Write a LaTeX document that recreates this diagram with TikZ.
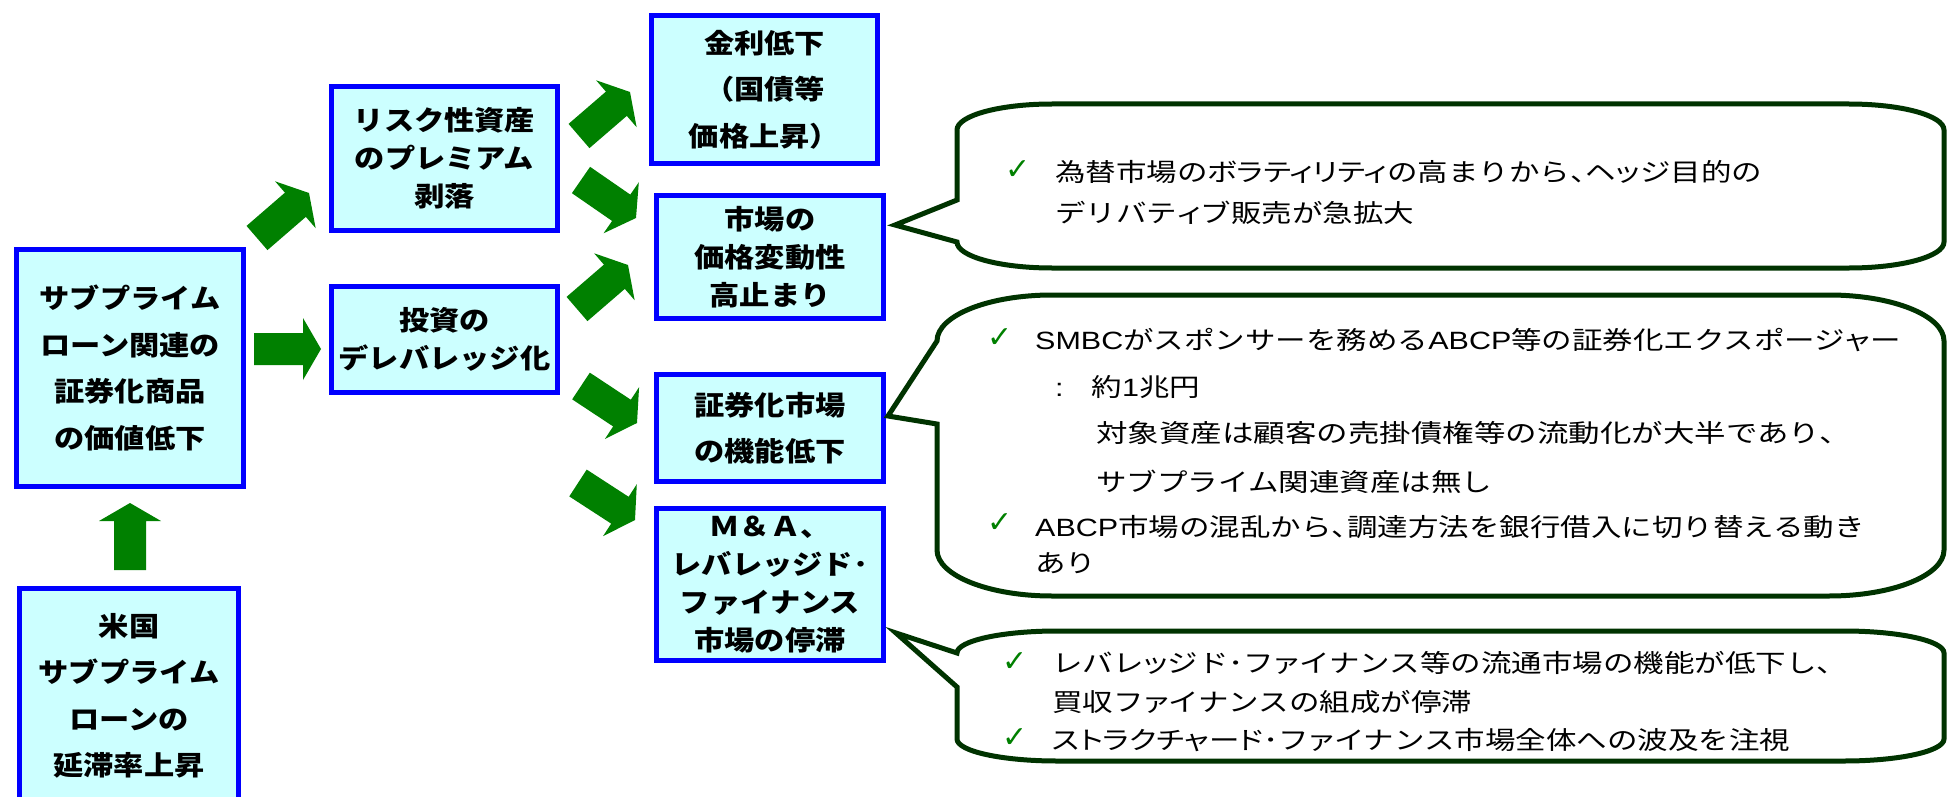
\documentclass[tikz,border=0pt]{standalone}
\usepackage{fontspec}
\usetikzlibrary{calc}
\newfontfamily\boxfont[FakeStretch=1.12]{Noto Sans CJK JP}
\newfontfamily\txtfont[FakeStretch=1.22]{Noto Sans CJK JP}
\newfontfamily\txtwfont[FakeStretch=1.26]{Noto Sans CJK JP}
\newfontfamily\txtpfont[FakeStretch=1.22,RawFeature=+palt]{Noto Sans CJK JP}
\newfontfamily\latfont[FakeStretch=1.22]{Liberation Sans}
\newfontfamily\symfont{DejaVu Sans}
\newcommand\pkn[1]{{\txtpfont #1}}
\newcommand\ltn[1]{{\latfont #1}}
\definecolor{boxblue}{RGB}{0,0,255}
\definecolor{boxfill}{RGB}{204,255,255}
\definecolor{arrowgreen}{RGB}{0,128,0}
\definecolor{calloutgreen}{RGB}{0,51,0}
\newcommand\blockarrow[3]{%
  \coordinate (#3) at ($(#2)!18pt!(#1)$);
  \fill[arrowgreen] ($(#1)!16pt!90:(#2)$) -- ($(#3)!16pt!90:(#2)$) -- ($(#3)!31pt!90:(#2)$) -- (#2)
    -- ($(#3)!31pt!-90:(#2)$) -- ($(#3)!16pt!-90:(#2)$) -- ($(#1)!16pt!-90:(#2)$) -- cycle;}
\begin{document}
\begin{tikzpicture}[x=1pt,y=-1pt,
  stepbox/.style={draw=boxblue, fill=boxfill, line width=5pt, inner sep=0pt, align=center},
  widesp/.style={font=\boxfont\bfseries\fontsize{27}{46.5}\selectfont},
  narrowsp/.style={font=\boxfont\bfseries\fontsize{27}{38}\selectfont},
  callout/.style={draw=calloutgreen, fill=white, line width=5pt, line join=miter},
  txt/.style={anchor=west, inner sep=0pt, font=\txtfont\fontsize{25}{30}\selectfont},
  chk/.style={inner sep=0pt, text=arrowgreen, font=\symfont\fontsize{30}{32}\selectfont}]
\useasboundingbox (0,0) rectangle (1948,797);
\clip (0,0) rectangle (1948,797);

% boxes
\node[stepbox, widesp, minimum width=227pt, minimum height=237pt] (A) at (130,368) {サブプライム\\ローン関連の\\証券化商品\\の価値低下};
\node[stepbox, widesp, minimum width=219pt, minimum height=215pt] (B) at (129,696) {米国\\サブプライム\\ローンの\\延滞率上昇};
\node[stepbox, narrowsp, minimum width=226pt, minimum height=144pt] (C) at (444.5,158.5) {リスク性資産\\のプレミアム\\剥落};
\node[stepbox, narrowsp, minimum width=226pt, minimum height=106pt] (D) at (444.5,339.5) {投資の\\デレバレッジ化};
\node[stepbox, widesp, minimum width=226pt, minimum height=148pt] (E) at (764.5,89.5) {金利低下\\（国債等\\価格上昇）};
\node[stepbox, narrowsp, minimum width=227pt, minimum height=123pt] (F) at (770,257) {市場の\\価格変動性\\高止まり};
\node[stepbox, widesp, minimum width=227pt, minimum height=107pt] (G) at (770,428) {証券化市場\\の機能低下};
\node[stepbox, narrowsp, minimum width=227pt, minimum height=152pt] (H) at (770,584.5) {Ｍ＆Ａ、\\レバレッジド･\\ファイナンス\\市場の停滞};

% block arrows
\coordinate (ba0) at (130,570); \coordinate (ba1) at (130,503);
\coordinate (ad0) at (254,349); \coordinate (ad1) at (321,349);
\coordinate (ac0) at (257,238); \coordinate (ac1) at (309,193);
\coordinate (ce0) at (579,136); \coordinate (ce1) at (630,92);
\coordinate (cf0) at (581,180); \coordinate (cf1) at (636,218);
\coordinate (df0) at (577,309); \coordinate (df1) at (628,265);
\coordinate (dg0) at (581,386); \coordinate (dg1) at (637,423);
\coordinate (dh0) at (578,483); \coordinate (dh1) at (635,520);
\blockarrow{ba0}{ba1}{bah}
\blockarrow{ad0}{ad1}{adh}
\blockarrow{ac0}{ac1}{ach}
\blockarrow{ce0}{ce1}{ceh}
\blockarrow{cf0}{cf1}{cfh}
\blockarrow{df0}{df1}{dfh}
\blockarrow{dg0}{dg1}{dgh}
\blockarrow{dh0}{dh1}{dhh}

% callout 1
\draw[callout] (957,130) -- (957,200) -- (895,225) -- (957,242)
  .. controls (957,256.4) and (999.5,268) .. (1052,268) -- (1849,268)
  .. controls (1901.5,268) and (1944,256.4) .. (1944,242) -- (1944,130)
  .. controls (1944,115.6) and (1901.5,104) .. (1849,104) -- (1052,104)
  .. controls (999.5,104) and (957,115.6) .. (957,130) -- cycle;
% callout 2
\draw[callout] (937,341) -- (888,416) -- (937,424) -- (937,550)
  .. controls (937,575.4) and (988.5,596) .. (1052,596) -- (1829,596)
  .. controls (1892.5,596) and (1944,575.4) .. (1944,550) -- (1944,341)
  .. controls (1944,315.6) and (1892.5,295) .. (1829,295) -- (1052,295)
  .. controls (988.5,295) and (937,315.6) .. (937,341) -- cycle;
% callout 3
\draw[callout] (957,653) -- (896,633) -- (957,687) -- (957,739)
  .. controls (957,751.2) and (1001.8,761) .. (1057,761) -- (1844,761)
  .. controls (1899.2,761) and (1944,751.2) .. (1944,739) -- (1944,653)
  .. controls (1944,640.8) and (1899.2,631) .. (1844,631) -- (1057,631)
  .. controls (1001.8,631) and (957,640.8) .. (957,653) -- cycle;

% callout 1 text
\node[chk] (k1) at (1018,170) {✓};
\node[txt] (t11) at (1055,172) {為替市場の\pkn{ボラティリティ}の高まりから\pkn{、}ヘ\pkn{ッ}ジ目的の};
\node[txt] (t12) at (1055,213) {デリバテ\pkn{ィ}ブ販売が急拡大};
% callout 2 text
\node[chk] (k2) at (1000,338) {✓};
\node[txt] (t21) at (1035,340) {\ltn{SMBC}がスポンサーを務める\ltn{ABCP}等の証券化エクスポージ\pkn{ャ}ー};
\node[txt] (t22) at (1055,387) {\ltn{:}\hspace{28pt}約\ltn{1}兆円};
\node[txt, font=\txtwfont\fontsize{25}{30}\selectfont] (t23) at (1096,433) {対象資産は顧客の売掛債権等の流動化が大半であり、};
\node[txt] (t24) at (1096,482) {サブプライム関連資産は無し};
\node[chk] (k3) at (1000,523) {✓};
\node[txt] (t25) at (1035,527) {\ltn{ABCP}市場の混乱から\pkn{、}調達方法を銀行借入に切り替える動き};
\node[txt] (t26) at (1035,563) {あり};
% callout 3 text
\node[chk] (k4) at (1015,662) {✓};
\node[txt] (t31) at (1052,663) {レバレ\pkn{ッ}ジド･フ\pkn{ァ}イナンス等の流通市場の機能が低下し\pkn{、}};
\node[txt] (t32) at (1052,702) {買収フ\pkn{ァ}イナンスの組成が停滞};
\node[chk] (k5) at (1015,738) {✓};
\node[txt] (t33) at (1052,740) {\pkn{ストラクチャード}･フ\pkn{ァ}イナンス市場全体への波及を注視};
\end{tikzpicture}
\end{document}
